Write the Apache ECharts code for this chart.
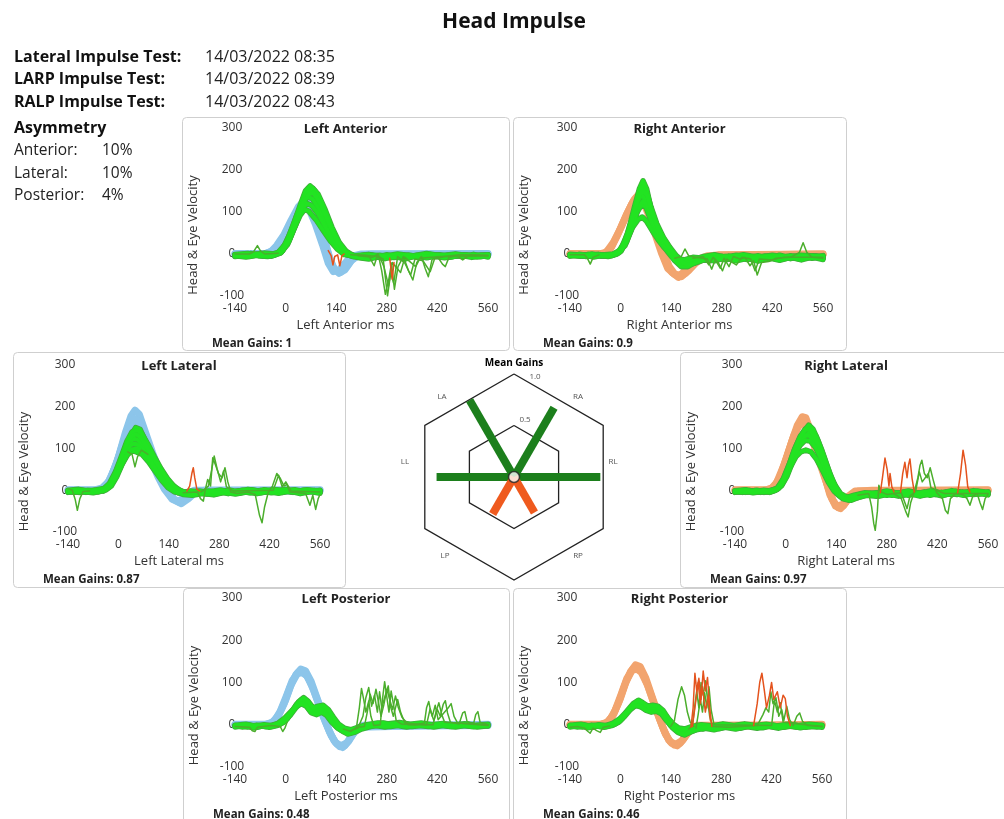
<!DOCTYPE html>
<html lang="en">
<head>
<meta charset="UTF-8">
<title>Head Impulse</title>
<style>html,body{margin:0;padding:0;background:#fff}</style>
</head>
<body>
<div id="chart" style="width:1004px;height:819px"></div>
<script src="https://cdn.jsdelivr.net/npm/echarts@6/dist/echarts.min.js"></script>
<script>
// header info
var testNames = ['Lateral Impulse Test:', 'LARP Impulse Test:', 'RALP Impulse Test:'];
var testTimes = ['14/03/2022 08:35', '14/03/2022 08:39', '14/03/2022 08:43'];
var asymNames = ['Anterior:', 'Lateral:', 'Posterior:'];
var asymValues = [10, 10, 4];

// axes: [min, max, step]
var xRange = [-140, 560, 140];
var yRange = [-100, 300, 100];

var panelNames = ['Left Anterior', 'Right Anterior', 'Left Lateral', 'Right Lateral', 'Left Posterior', 'Right Posterior'];
var meanGains = [1, 0.9, 0.87, 0.97, 0.48, 0.46];

// radar: canal label -> panel index
var radarAxes = ['RL', 'RA', 'LA', 'LL', 'LP', 'RP'];
var radarPanel = [3, 1, 0, 2, 4, 5];

// ---- traces [ms, deg/s] ----
var laHead = [
  [[-140,0],[-70,1],[-50,2],[-35,8],[-20,22],[0,48],[20,82],[40,112],[55,124],[70,114],[90,78],[110,28],[125,-18],[138,-40],[152,-44],[168,-32],[185,-12],[205,-2],[240,0],[560,0]],
  [[-140,-2],[-60,0],[-40,6],[-25,20],[-5,45],[15,80],[35,112],[52,128],[66,120],[85,85],[105,38],[120,-5],[134,-35],[148,-46],[164,-38],[182,-16],[200,-4],[240,-1],[560,-1]],
  [[-140,1],[-55,1],[-30,10],[-10,32],[10,66],[30,100],[48,118],[62,112],[82,72],[102,22],[118,-22],[132,-42],[146,-40],[162,-24],[180,-6],[210,0],[560,1]]
];
var laEye = [
  [[-140,-3],[-120,-5],[-100,-2],[-80,0],[-60,-4],[-40,-1],[-20,4],[0,24],[20,65],[40,115],[55,150],[68,162],[80,152],[95,122],[110,88],[125,52],[140,24],[155,6],[170,-2],[190,-6],[220,-3],[250,-8],[280,-2],[310,-7],[340,-3],[370,-6],[400,-1],[430,-5],[460,-2],[490,-6],[520,-1],[545,-5],[560,-3]],
  [[-140,-6],[-115,-3],[-95,1],[-75,-4],[-50,-6],[-30,-2],[-10,9],[10,44],[30,90],[48,124],[60,136],[74,132],[92,108],[112,72],[132,38],[148,14],[165,1],[185,-6],[215,-9],[245,-4],[275,-11],[305,-4],[335,-9],[365,-3],[395,-8],[425,-2],[455,-7],[485,-3],[515,-8],[540,-3],[560,-7]],
  [[-140,-4],[-110,-7],[-85,-3],[-60,-1],[-35,-4],[-15,2],[5,22],[22,58],[40,92],[52,106],[64,102],[84,82],[104,56],[124,31],[144,11],[162,-1],[190,-4],[230,-1],[270,-6],[310,0],[350,-5],[390,1],[430,-4],[470,0],[510,-5],[560,-2]],
  [[-140,-1],[-105,1],[-80,-3],[-45,-2],[-15,3],[8,28],[28,70],[48,116],[63,146],[76,156],[90,142],[108,108],[128,64],[148,28],[168,6],[188,-4],[210,-7],[240,-3],[270,-10],[300,-5],[330,-12],[360,-4],[390,-9],[420,-3],[450,-8],[490,-2],[530,-7],[560,-4]],
  [[-140,-2],[-90,-1],[-60,2],[-30,0],[-10,6],[12,40],[32,85],[50,130],[64,150],[78,146],[96,118],[116,80],[136,42],[156,14],[176,0],[200,-8],[230,-12],[260,-6],[290,-9],[320,-2],[360,-7],[400,-4],[440,-9],[480,-3],[520,-6],[560,-2]],
  [[-140,-3],[-100,-1],[-60,-5],[-30,-1],[-8,8],[12,38],[32,80],[48,110],[60,120],[72,116],[90,96],[110,64],[130,34],[150,12],[170,0],[195,-5],[230,-3],[270,-7],[310,-2],[350,-6],[390,-2],[430,-6],[470,-1],[510,-5],[560,-2]],
  [[-140,-4],[-100,-6],[-70,-2],[-40,-5],[-12,4],[10,34],[30,78],[50,124],[64,142],[76,146],[90,130],[108,98],[128,58],[146,26],[164,6],[186,-5],[220,-6],[260,-3],[300,-8],[340,-3],[380,-7],[420,-2],[460,-6],[500,-2],[540,-6],[560,-3]]
];
var laOut = [
  [[-140,0],[-100,0],[-88,6],[-78,20],[-70,8],[-58,0],[-20,2]],
  [[200,-4],[240,-8],[256,0],[266,-40],[276,-96],[286,-58],[293,-22],[301,-84],[311,-30],[326,-6],[340,-40],[352,-62],[363,-20],[376,-6],[386,-34],[395,-54],[405,-14],[420,-6],[434,-24],[442,-30],[452,-8],[472,-4],[490,-14],[510,-2],[560,-4]],
  [[180,-2],[230,-4],[245,-28],[253,-6],[270,-12],[282,-100],[291,-44],[299,-70],[310,-6],[330,-22],[346,-50],[358,-12],[380,-16],[400,-42],[412,-12],[440,-6],[480,-2],[560,-3]],
  [[200,-2],[260,-6],[272,-30],[285,-76],[295,-20],[318,-44],[330,-8],[360,-30],[372,-10],[430,-6],[560,-5]]
];
var laSac = [
  [[118,8],[126,-4],[131,-26],[136,-6],[144,-2],[150,-28],[156,-4],[162,0]],
  [[288,-10],[295,-60],[300,-20]]
];

var raHead = [
  [[-140,0],[-60,0],[-40,4],[-20,28],[0,62],[20,100],[38,130],[50,142],[62,135],[80,100],[100,52],[118,6],[135,-30],[152,-50],[168,-54],[188,-40],[210,-20],[235,-8],[270,-2],[560,0]],
  [[-140,-2],[-50,0],[-30,10],[-10,42],[10,80],[30,118],[45,136],[58,132],[75,98],[95,48],[114,0],[130,-34],[148,-48],[165,-50],[185,-34],[210,-14],[240,-4],[560,-2]],
  [[-140,1],[-45,1],[-25,16],[-5,52],[15,92],[35,126],[52,140],[66,126],[86,82],[106,30],[124,-16],[142,-44],[160,-56],[180,-46],[200,-26],[228,-10],[260,-3],[560,0]]
];
var raEye = [
  [[-140,-2],[-110,-5],[-90,-1],[-70,-4],[-45,-2],[-20,0],[0,10],[20,50],[38,110],[52,155],[62,174],[72,155],[86,100],[100,62],[116,34],[132,12],[150,-8],[170,-24],[190,-22],[210,-14],[240,-8],[270,-10],[300,-5],[330,-12],[360,-8],[390,-14],[420,-7],[450,-12],[480,-6],[510,-10],[540,-5],[560,-9]],
  [[-140,-5],[-115,-1],[-95,-6],[-65,-2],[-35,-6],[-10,0],[10,26],[28,72],[45,120],[58,142],[68,130],[82,92],[98,55],[114,28],[130,6],[148,-14],[168,-30],[186,-30],[206,-20],[230,-14],[260,-16],[290,-9],[320,-16],[350,-10],[380,-17],[410,-9],[440,-15],[470,-8],[500,-14],[530,-7],[560,-13]],
  [[-140,-3],[-105,-4],[-80,0],[-55,-5],[-25,-3],[-5,4],[15,30],[32,62],[48,82],[60,88],[72,78],[88,55],[104,34],[120,16],[138,0],[158,-16],[178,-22],[200,-14],[230,-6],[260,-2],[290,-8],[320,-3],[350,-9],[380,-4],[410,-10],[440,-3],[470,-9],[500,-4],[530,-9],[560,-4]],
  [[-140,-4],[-100,-2],[-75,-7],[-50,-3],[-20,-1],[0,6],[18,38],[35,90],[50,135],[61,160],[71,150],[84,112],[100,72],[118,40],[136,16],[154,-4],[174,-18],[196,-20],[220,-12],[250,-12],[280,-6],[310,-13],[340,-6],[370,-11],[400,-5],[430,-12],[460,-6],[490,-11],[520,-4],[560,-10]],
  [[-140,-1],[-100,-3],[-60,-1],[-30,-4],[-8,2],[12,20],[30,58],[46,100],[58,118],[70,112],[84,80],[100,50],[118,24],[136,4],[156,-12],[176,-14],[200,-8],[230,-10],[260,-4],[300,-7],[340,-2],[380,-8],[420,-3],[460,-8],[500,-3],[560,-6]],
  [[-140,-3],[-110,-1],[-80,-5],[-50,-2],[-25,-4],[-4,3],[16,28],[34,72],[50,112],[62,126],[74,115],[88,82],[104,50],[120,24],[138,2],[158,-16],[178,-24],[200,-16],[230,-10],[260,-12],[290,-6],[320,-11],[350,-5],[380,-10],[410,-5],[440,-10],[470,-4],[500,-9],[530,-4],[560,-8]],
  [[-140,-2],[-105,-5],[-75,-2],[-45,-5],[-18,-1],[2,8],[20,44],[37,98],[52,140],[63,152],[74,138],[88,96],[104,60],[122,32],[140,8],[160,-12],[182,-26],[204,-22],[230,-14],[260,-8],[290,-14],[320,-7],[350,-13],[380,-7],[410,-12],[440,-6],[470,-11],[500,-5],[530,-10],[560,-5]]
];
var raOut = [
  [[-140,-2],[-100,-2],[-92,-10],[-84,-24],[-76,-8],[-60,-2]],
  [[150,-10],[168,-6],[178,12],[188,-4],[210,-8],[240,-12],[252,-36],[262,-14],[276,-34],[286,-10],[300,-30],[312,-6],[330,-12],[344,-8],[358,-28],[368,-16],[378,-50],[390,-20],[410,-18],[430,-10],[470,-8],[495,4],[505,27],[515,4],[530,-8],[560,-10]],
  [[200,-10],[228,-6],[244,-26],[256,-8],[270,-20],[282,-40],[294,-12],[320,-26],[336,-8],[360,-12],[372,-40],[384,-12],[420,-14],[450,-8],[560,-8]]
];
var raSac = [];

var llHead = [
  [[-140,0],[-70,0],[-50,2],[-35,10],[-20,32],[0,80],[20,140],[35,178],[46,192],[58,182],[75,140],[95,90],[115,45],[135,10],[155,-22],[175,-32],[195,-20],[215,-4],[240,0],[560,0]],
  [[-140,-2],[-60,-1],[-40,6],[-25,22],[-5,65],[15,120],[32,160],[44,172],[56,164],[72,128],[92,80],[112,38],[130,6],[150,-22],[170,-30],[190,-16],[210,-3],[560,-2]],
  [[-140,1],[-65,1],[-45,6],[-28,20],[-8,58],[12,110],[30,148],[42,158],[55,150],[70,118],[90,72],[110,32],[128,2],[148,-20],[168,-26],[188,-12],[210,0],[560,1]]
];
var llEye = [
  [[-140,-2],[-120,-4],[-100,0],[-80,-3],[-60,-1],[-40,3],[-25,10],[-10,30],[5,62],[20,100],[35,132],[48,150],[60,146],[75,118],[92,88],[110,60],[128,36],[145,16],[162,4],[180,-4],[200,-8],[230,-4],[260,-7],[290,-2],[320,-6],[350,-1],[380,-5],[410,0],[440,-4],[470,-1],[500,-5],[530,-2],[560,-4]],
  [[-140,-5],[-115,-1],[-90,-5],[-65,-2],[-45,0],[-30,6],[-15,22],[0,50],[15,84],[30,112],[42,124],[55,120],[70,104],[88,80],[106,54],[124,30],[142,10],[160,-2],[180,-10],[205,-12],[235,-8],[265,-11],[295,-5],[325,-9],[355,-4],[385,-8],[415,-3],[445,-7],[475,-2],[505,-8],[535,-3],[560,-7]],
  [[-140,-3],[-105,-5],[-80,-1],[-55,-4],[-35,1],[-20,10],[-5,32],[10,62],[25,85],[38,95],[50,92],[66,86],[84,68],[102,46],[120,24],[138,6],[156,-4],[176,-6],[200,-2],[240,-5],[280,0],[320,-4],[360,2],[400,-3],[440,1],[480,-4],[520,0],[560,-3]],
  [[-140,0],[-110,2],[-85,-2],[-60,1],[-40,4],[-25,16],[-8,44],[8,80],[24,118],[38,140],[52,144],[66,134],[82,110],[100,80],[118,52],[136,28],[154,10],[172,-2],[195,-6],[225,-2],[255,-6],[285,0],[315,-5],[345,0],[375,-4],[405,1],[435,-3],[465,2],[495,-3],[525,1],[560,-2]],
  [[-140,-4],[-100,-3],[-70,-6],[-45,-1],[-28,8],[-12,26],[4,56],[20,90],[34,108],[46,112],[58,106],[74,92],[92,70],[110,46],[128,24],[146,6],[166,-6],[188,-8],[215,-4],[245,-9],[275,-3],[305,-8],[335,-2],[365,-6],[395,-1],[425,-6],[455,0],[485,-5],[515,0],[545,-4],[560,-1]],
  [[-140,-1],[-110,-4],[-85,0],[-60,-3],[-40,2],[-26,12],[-10,38],[6,72],[22,108],[36,128],[48,134],[60,128],[76,108],[94,82],[112,56],[130,32],[148,12],[166,0],[186,-6],[215,-8],[245,-3],[275,-8],[305,-2],[335,-7],[365,-1],[395,-6],[425,-1],[455,-5],[485,0],[515,-5],[545,-1],[560,-4]],
  [[-140,-3],[-112,0],[-88,-4],[-62,0],[-42,-2],[-28,6],[-12,24],[4,52],[20,80],[34,96],[46,100],[58,98],[74,88],[92,66],[110,42],[128,20],[146,4],[166,-6],[190,-4],[220,-8],[250,-2],[280,-6],[310,0],[340,-5],[370,1],[400,-4],[430,2],[460,-3],[490,1],[520,-4],[560,0]]
];
var llOut = [
  [[-140,4],[-128,0],[-120,-22],[-114,-48],[-107,-20],[-98,-3],[-80,-2]],
  [[26,92],[38,86],[46,56],[53,80],[64,96],[82,86]],
  [[180,-6],[220,-4],[228,-20],[236,-26],[242,4],[248,26],[256,10],[262,78],[270,60],[278,40],[288,30],[296,54],[304,20],[312,-4],[330,-8],[360,-4],[380,-10],[392,-60],[399,-78],[406,-40],[416,-6],[428,10],[440,40],[450,28],[460,10],[468,14],[476,-4],[500,-6],[520,-8],[532,-36],[540,-12],[548,-46],[555,-20],[560,-10]],
  [[230,-4],[250,10],[258,44],[266,82],[274,52],[284,20],[292,46],[300,8],[320,-2],[430,0],[445,36],[455,8],[465,20],[480,-2],[560,-4]]
];
var llSac = [
  [[190,-2],[198,10],[204,40],[208,54],[212,30],[218,2],[226,-2]]
];

var rlHead = [
  [[-140,0],[-60,0],[-40,4],[-25,18],[-5,60],[15,112],[32,155],[46,176],[56,174],[70,140],[88,90],[106,40],[122,-10],[138,-38],[152,-44],[166,-30],[182,-10],[200,-2],[240,0],[560,0]],
  [[-140,-2],[-50,0],[-32,8],[-15,34],[5,84],[22,130],[38,160],[50,168],[62,156],[80,112],[98,62],[116,14],[132,-26],[146,-42],[160,-38],[176,-18],[195,-4],[560,-2]],
  [[-140,1],[-55,1],[-35,6],[-18,26],[0,70],[18,118],[35,152],[48,162],[60,150],[76,114],[94,66],[112,20],[128,-20],[142,-38],[158,-34],[174,-14],[192,-2],[560,1]]
];
var rlEye = [
  [[-140,-2],[-120,-5],[-100,-1],[-80,-4],[-60,-2],[-40,-3],[-25,2],[-10,14],[5,40],[20,78],[35,115],[50,140],[64,156],[76,146],[90,118],[106,80],[122,40],[138,10],[152,-8],[168,-16],[186,-16],[206,-12],[230,-8],[260,-10],[290,-5],[320,-11],[350,-5],[380,-10],[410,-4],[440,-9],[470,-3],[500,-8],[530,-3],[560,-7]],
  [[-140,-5],[-115,-2],[-90,-6],[-65,-3],[-45,-5],[-28,0],[-12,10],[4,34],[20,70],[36,104],[52,128],[66,138],[80,128],[96,96],[112,58],[128,24],[144,-2],[160,-18],[178,-22],[198,-18],[222,-12],[252,-14],[282,-8],[312,-14],[342,-8],[372,-14],[402,-7],[432,-13],[462,-6],[492,-12],[522,-6],[560,-11]],
  [[-140,-3],[-105,-4],[-80,0],[-55,-4],[-35,-1],[-20,4],[-5,22],[12,54],[28,80],[42,92],[56,96],[70,92],[86,74],[102,48],[118,20],[134,-2],[150,-14],[168,-18],[190,-12],[220,-6],[250,-8],[280,-2],[310,-7],[340,-2],[370,-8],[400,-2],[430,-7],[460,-1],[490,-6],[520,-1],[560,-5]],
  [[-140,-1],[-110,1],[-85,-3],[-60,0],[-40,-2],[-22,6],[-6,28],[10,62],[26,100],[42,130],[56,146],[70,148],[84,130],[100,96],[116,56],[132,18],[148,-6],[164,-18],[184,-20],[206,-14],[232,-8],[262,-11],[292,-4],[322,-10],[352,-4],[382,-9],[412,-3],[442,-9],[472,-3],[502,-9],[532,-3],[560,-8]],
  [[-140,-4],[-100,-2],[-70,-5],[-45,-2],[-26,2],[-10,16],[6,46],[22,84],[38,116],[52,130],[64,132],[78,118],[94,88],[110,50],[126,14],[142,-8],[158,-20],[176,-24],[196,-16],[220,-10],[250,-6],[280,-12],[310,-6],[340,-12],[370,-6],[400,-12],[430,-5],[460,-10],[490,-4],[520,-10],[560,-6]],
  [[-140,-2],[-110,-5],[-85,-1],[-60,-5],[-40,0],[-24,4],[-8,20],[8,50],[24,84],[40,108],[54,120],[68,118],[82,104],[98,76],[114,40],[130,8],[146,-10],[164,-20],[184,-18],[206,-10],[234,-12],[264,-6],[294,-12],[324,-5],[354,-10],[384,-4],[414,-10],[444,-4],[474,-10],[504,-4],[534,-9],[560,-4]],
  [[-140,-3],[-112,0],[-88,-4],[-62,-1],[-42,-4],[-24,2],[-8,22],[8,56],[24,96],[40,128],[54,146],[68,144],[82,126],[98,94],[114,54],[130,16],[146,-8],[162,-20],[182,-24],[204,-16],[230,-10],[260,-14],[290,-7],[320,-13],[350,-6],[380,-12],[410,-6],[440,-11],[470,-5],[500,-11],[530,-5],[560,-9]]
];
var rlOut = [
  [[200,-12],[230,-8],[238,-40],[244,-80],[248,-96],[254,-50],[258,12],[264,-4],[280,-10],[300,-8],[320,-20],[332,-50],[339,-64],[346,-30],[356,-4],[366,30],[372,60],[377,72],[384,40],[392,30],[400,54],[408,26],[418,-6],[434,-20],[442,-48],[449,-56],[456,-20],[470,-8],[490,-10],[502,-20],[510,-36],[518,-14],[530,-8],[538,-30],[545,-46],[552,-20],[560,-10]],
  [[300,-8],[320,-6],[336,-44],[344,-14],[360,-2],[370,44],[378,20],[395,40],[402,6],[440,-8],[560,-8]]
];
var rlSac = [
  [[262,-6],[268,30],[275,77],[281,50],[286,10],[289,40],[294,8],[300,-4]],
  [[318,-4],[324,40],[330,67],[336,30],[340,60],[344,75],[350,28],[356,-4]],
  [[476,-6],[484,40],[491,96],[498,60],[504,8],[510,-4]]
];

var lpHead = [
  [[-140,0],[-60,0],[-40,4],[-22,18],[-5,48],[12,88],[28,118],[42,132],[55,128],[70,104],[86,66],[102,28],[118,-8],[134,-38],[150,-52],[164,-50],[180,-30],[196,-10],[215,-1],[560,0]],
  [[-140,-2],[-50,0],[-32,8],[-15,32],[2,68],[18,104],[34,124],[48,126],[62,112],[78,80],[94,42],[110,6],[126,-26],[142,-46],[158,-54],[174,-40],[190,-18],[210,-4],[560,-2]],
  [[-140,1],[-55,1],[-36,6],[-18,24],[0,58],[16,96],[32,120],[45,124],[58,116],[74,90],[90,54],[106,16],[122,-18],[138,-42],[154,-50],[170,-42],[186,-22],[204,-6],[560,1]]
];
var lpEye = [
  [[-140,-2],[-120,-5],[-100,-1],[-80,-6],[-60,-2],[-40,-4],[-20,0],[0,10],[15,28],[30,48],[45,60],[58,52],[72,34],[86,38],[100,42],[114,32],[128,14],[142,0],[158,-10],[174,-18],[190,-14],[210,-6],[230,-2],[250,2],[270,4],[290,0],[310,3],[340,-2],[370,1],[400,-3],[430,0],[460,-4],[490,-1],[520,-4],[545,-1],[560,-3]],
  [[-140,-5],[-115,-2],[-90,-7],[-65,-3],[-45,-6],[-25,-2],[-5,6],[12,22],[28,40],[42,52],[56,46],[70,30],[84,30],[98,36],[112,28],[126,10],[140,-4],[156,-14],[172,-22],[190,-18],[210,-10],[235,-4],[260,-1],[290,-4],[320,0],[350,-4],[380,-1],[410,-5],[440,-1],[470,-5],[500,-1],[530,-5],[560,-2]],
  [[-140,-3],[-105,-5],[-80,-1],[-55,-4],[-35,-1],[-15,2],[4,14],[20,34],[36,54],[50,64],[62,56],[76,40],[90,44],[104,46],[118,36],[132,18],[146,2],[162,-8],[180,-12],[200,-6],[225,0],[255,4],[285,2],[315,5],[345,1],[375,4],[405,0],[435,3],[465,-1],[495,2],[525,-1],[560,1]],
  [[-140,-1],[-110,1],[-85,-3],[-60,0],[-40,-2],[-20,4],[-2,16],[14,30],[30,44],[44,50],[58,44],[72,28],[86,24],[100,30],[114,22],[128,6],[144,-8],[160,-16],[178,-20],[198,-12],[220,-4],[245,-1],[275,-5],[305,-1],[335,-5],[365,-1],[395,-4],[425,0],[455,-4],[485,0],[515,-4],[560,-1]]
];
var lpOut = [
  [[-140,-4],[-100,-6],[-92,-14],[-85,-16],[-78,-6],[-40,-2],[-15,-4],[-8,-16],[-2,-8],[4,6]],
  [[160,-10],[180,-16],[196,-6],[204,40],[210,86],[216,60],[222,30],[230,56],[236,20],[244,-2],[262,0],[268,60],[274,102],[280,66],[286,30],[292,80],[298,50],[306,10],[320,2],[360,0],[384,4],[390,40],[396,55],[402,30],[410,10],[420,36],[428,20],[436,48],[442,57],[448,28],[456,6],[480,2],[490,28],[496,31],[502,8],[520,2],[526,24],[532,31],[538,6],[560,0]],
  [[180,-14],[200,-8],[214,20],[222,64],[230,88],[238,44],[246,70],[254,30],[260,78],[266,40],[276,70],[284,92],[290,44],[298,20],[310,60],[318,30],[330,4],[390,0],[400,38],[406,20],[414,46],[422,12],[450,40],[458,50],[466,20],[476,4],[560,-2]],
  [[200,-6],[218,-4],[226,30],[234,72],[242,50],[250,84],[256,58],[264,20],[272,48],[280,84],[288,60],[296,36],[304,68],[312,40],[322,18],[340,0],[408,0],[416,30],[424,52],[432,24],[440,6],[560,0]]
];
var lpSac = [];

var rpHead = [
  [[-140,0],[-60,0],[-40,4],[-22,20],[-5,52],[12,94],[28,126],[42,142],[55,138],[70,112],[86,72],[102,32],[118,-6],[134,-36],[150,-48],[166,-44],[182,-26],[198,-8],[215,-1],[560,0]],
  [[-140,-2],[-50,0],[-32,8],[-15,34],[2,72],[18,110],[34,132],[48,136],[62,122],[78,88],[94,48],[110,10],[126,-24],[142,-44],[158,-50],[174,-36],[190,-16],[210,-3],[560,-2]],
  [[-140,1],[-55,1],[-36,6],[-18,26],[0,62],[16,102],[32,128],[45,132],[58,124],[74,96],[90,58],[106,20],[122,-16],[138,-40],[154,-46],[170,-38],[186,-20],[204,-5],[560,1]]
];
var rpEye = [
  [[-140,-2],[-120,-5],[-100,-1],[-80,-6],[-60,-2],[-40,-4],[-20,0],[0,10],[15,26],[30,42],[44,52],[56,50],[70,42],[84,40],[98,42],[112,36],[126,22],[140,6],[156,-8],[172,-16],[190,-12],[210,-6],[230,-10],[250,-4],[270,-8],[290,-2],[310,-6],[340,0],[370,-5],[400,-1],[430,-6],[460,-2],[490,-6],[520,-2],[545,-5],[560,-3]],
  [[-140,-5],[-115,-2],[-90,-7],[-65,-3],[-45,-6],[-25,-2],[-5,6],[12,20],[28,36],[42,46],[56,44],[70,36],[84,34],[98,38],[112,30],[126,14],[140,-2],[156,-14],[172,-22],[190,-18],[210,-12],[235,-8],[260,-12],[290,-6],[320,-10],[350,-4],[380,-8],[410,-3],[440,-8],[470,-2],[500,-7],[530,-2],[560,-6]],
  [[-140,-3],[-105,-5],[-80,-1],[-55,-4],[-35,-1],[-15,2],[4,14],[20,34],[36,50],[50,58],[62,52],[76,44],[90,46],[104,44],[118,34],[132,16],[146,2],[162,-8],[180,-10],[200,-4],[225,0],[255,-3],[285,2],[315,-2],[345,2],[375,-2],[405,1],[435,-3],[465,1],[495,-2],[525,1],[560,-1]],
  [[-140,-1],[-110,1],[-85,-3],[-60,0],[-40,-2],[-20,4],[-2,14],[14,28],[30,40],[44,46],[58,42],[72,34],[86,30],[100,32],[114,26],[128,10],[144,-6],[160,-18],[178,-24],[198,-16],[220,-8],[245,-4],[275,-9],[305,-3],[335,-8],[365,-2],[395,-7],[425,-1],[455,-6],[485,-1],[515,-6],[560,-2]]
];
var rpOut = [
  [[-140,-6],[-120,-4],[-100,-8],[-90,-16],[-84,-20],[-76,-8],[-66,-14],[-56,-18],[-48,-6],[-30,-3]],
  [[140,-4],[150,10],[160,60],[170,90],[178,70],[186,30],[194,6],[204,-4]],
  [[190,-10],[200,-2],[206,40],[212,80],[218,40],[224,100],[230,70],[236,104],[242,60],[248,20],[256,-4],[300,-6],[380,-2],[396,24],[404,40],[412,30],[418,78],[424,50],[432,64],[440,20],[448,36],[454,10],[462,44],[470,12],[480,-2],[490,20],[498,28],[506,8],[520,-2],[560,-4]],
  [[210,-8],[216,24],[222,60],[228,30],[234,76],[240,40],[246,90],[252,36],[260,0],[420,-2],[428,58],[436,30],[444,52],[452,6],[560,-4]]
];
var rpSac = [
  [[196,-6],[202,40],[207,122],[212,80],[218,110],[224,60],[230,127],[236,80],[242,112],[248,40],[254,-4]],
  [[200,-4],[210,60],[216,100],[222,50],[228,90],[236,30],[244,70],[250,10]],
  [[370,-2],[380,50],[387,100],[393,122],[400,80],[406,40],[414,70],[420,100],[426,60],[436,78],[444,40],[452,70],[458,62],[464,20],[472,-2]]
];

var panelTraces = [
  [laHead, laEye, laOut, laSac],
  [raHead, raEye, raOut, raSac],
  [llHead, llEye, llOut, llSac],
  [rlHead, rlEye, rlOut, rlSac],
  [lpHead, lpEye, lpOut, lpSac],
  [rpHead, rpEye, rpOut, rpSac]
];

// ---- layout ----
var FONT = '"Open Sans", sans-serif';
var BLUE = '#8cc5ea', ORANGE = '#f2a46e', GREEN = '#22e322', GREEN_EDGE = '#3fae3a', GREEN_DARK = '#4bae2c', RED = '#e4531d';
// box [x,y,w,h], grid [left,top,w,h]
var layout = [
  {box: [182, 117, 327, 233], grid: [235, 128, 253, 168]},
  {box: [513, 117, 333, 233], grid: [570, 128, 253, 168]},
  {box: [13, 352, 332, 235], grid: [68, 365, 252, 167]},
  {box: [680, 352, 332, 235], grid: [735, 365, 253, 167]},
  {box: [183, 588, 326, 240], grid: [235, 598, 253, 169]},
  {box: [513, 588, 333, 240], grid: [570, 598, 252, 169]}
];
var radarCenter = [514, 477];
var radarAngles = [0, 60, 120, 180, 240, 300];
var radarLabelPos = [[613, 462], [578, 397], [442, 397], [405, 462], [445, 556], [578, 556]];

var myChart = echarts.init(document.getElementById('chart'), null, {renderer: 'canvas'});

var grids = [], xAxes = [], yAxes = [], series = [], graphics = [];

function txt(x, y, text, font, opts) {
  opts = opts || {};
  return {
    type: 'text', x: x, y: y, rotation: opts.rotation || 0, z: 100,
    style: {
      text: text, font: font, fill: opts.fill || '#222',
      textAlign: opts.align || 'left', textVerticalAlign: 'middle'
    }
  };
}

function addTraces(traces, gi, color, width, z) {
  traces.forEach(function (t) {
    series.push({
      type: 'line', xAxisIndex: gi, yAxisIndex: gi, data: t,
      showSymbol: false, symbol: 'none', silent: true, z: z,
      lineStyle: {color: color, width: width, join: 'round', cap: 'round'}
    });
  });
}

layout.forEach(function (L, i) {
  var b = L.box, g = L.grid;
  grids.push({left: g[0], top: g[1], width: g[2], height: g[3], containLabel: false});
  xAxes.push({
    type: 'value', gridIndex: i, min: xRange[0], max: xRange[1], interval: xRange[2],
    axisLine: {show: false}, axisTick: {show: false}, splitLine: {show: false},
    axisLabel: {fontSize: 12, color: '#333', margin: 7, fontFamily: FONT}
  });
  yAxes.push({
    type: 'value', gridIndex: i, min: yRange[0], max: yRange[1], interval: yRange[2],
    axisLine: {show: false}, axisTick: {show: false}, splitLine: {show: false},
    axisLabel: {fontSize: 12, color: '#333', margin: 3, align: 'center', fontFamily: FONT}
  });

  var tr = panelTraces[i];
  var headColor = (i % 2 === 0) ? BLUE : ORANGE;
  addTraces(tr[0], i, headColor, 7, 2);
  addTraces(tr[1], i, GREEN_EDGE, 5.6, 3);
  addTraces(tr[1], i, GREEN, 4, 4);
  addTraces(tr[2], i, GREEN_DARK, 1.5, 5);
  addTraces(tr[3], i, RED, 1.5, 6);

  var cx = b[0] + b[2] / 2;
  graphics.push({
    type: 'rect', shape: {x: b[0] + 0.5, y: b[1] + 0.5, width: b[2], height: b[3], r: 4}, z: 0,
    style: {fill: '#fff', stroke: '#cfcfcf', lineWidth: 1}
  });
  graphics.push(txt(cx, g[1] + 1, panelNames[i], 'bold 13px ' + FONT, {align: 'center'}));
  graphics.push(txt(cx, g[1] + g[3] + 29, panelNames[i] + ' ms', '13px ' + FONT, {align: 'center', fill: '#333'}));
  graphics.push(txt(b[0] + 30, g[1] + g[3] + 48, 'Mean Gains: ' + meanGains[i], 'bold 11.5px ' + FONT));
  graphics.push(txt(b[0] + 11, g[1] + g[3] / 2 + 23, 'Head & Eye Velocity', '13px ' + FONT, {align: 'center', rotation: Math.PI / 2, fill: '#333'}));
});

// header
graphics.push(txt(514, 22, 'Head Impulse', 'bold 21px ' + FONT, {align: 'center', fill: '#111'}));
testNames.forEach(function (n, k) {
  graphics.push(txt(14, 57 + k * 22.5, n, 'bold 16px ' + FONT, {fill: '#111'}));
  graphics.push(txt(205, 57 + k * 22.5, testTimes[k], '16px ' + FONT));
});
graphics.push(txt(14, 128, 'Asymmetry', 'bold 16px ' + FONT, {fill: '#111'}));
asymNames.forEach(function (n, k) {
  graphics.push(txt(14, 151 + k * 22.5, n, '15.5px ' + FONT));
  graphics.push(txt(102, 151 + k * 22.5, asymValues[k] + '%', '15.5px ' + FONT));
});

// radar labels
graphics.push(txt(514, 363, 'Mean Gains', 'bold 10px ' + FONT, {align: 'center', fill: '#000'}));
graphics.push(txt(535, 377, '1.0', '8px ' + FONT, {align: 'center', fill: '#555'}));
graphics.push(txt(525, 420, '0.5', '8px ' + FONT, {align: 'center', fill: '#555'}));
radarAxes.forEach(function (n, k) {
  graphics.push(txt(radarLabelPos[k][0], radarLabelPos[k][1], n, '8px ' + FONT, {align: 'center', fill: '#555'}));
});

// gain bars in polar coords
radarAxes.forEach(function (n, k) {
  var gv = meanGains[radarPanel[k]];
  series.push({
    type: 'line', coordinateSystem: 'polar', polarIndex: 0,
    data: [[0, radarAngles[k]], [gv, radarAngles[k]]],
    showSymbol: false, symbol: 'none', silent: true, z: 10,
    lineStyle: {color: gv < 0.7 ? '#ef5a1e' : '#1c7f1c', width: 8, cap: 'butt'}
  });
});
series.push({
  type: 'scatter', coordinateSystem: 'polar', polarIndex: 0, data: [[0, 0]],
  symbolSize: 11, silent: true, z: 12,
  itemStyle: {color: '#fff', borderColor: '#222', borderWidth: 1.5}
});

var option = {
  backgroundColor: '#fff',
  animation: false,
  grid: grids,
  xAxis: xAxes,
  yAxis: yAxes,
  radar: {
    center: radarCenter, radius: 103, startAngle: 90, splitNumber: 2, shape: 'polygon',
    indicator: radarAxes.map(function () { return {name: '', max: 1}; }),
    axisName: {show: false},
    axisLine: {show: false},
    splitArea: {show: false},
    splitLine: {lineStyle: {color: '#222', width: 1.3}}
  },
  polar: {center: radarCenter, radius: 89},
  angleAxis: {type: 'value', min: 0, max: 360, startAngle: 0, clockwise: false, show: false},
  radiusAxis: {type: 'value', min: 0, max: 1, show: false},
  graphic: {elements: graphics},
  series: series
};
myChart.setOption(option);
</script>
</body>
</html>
